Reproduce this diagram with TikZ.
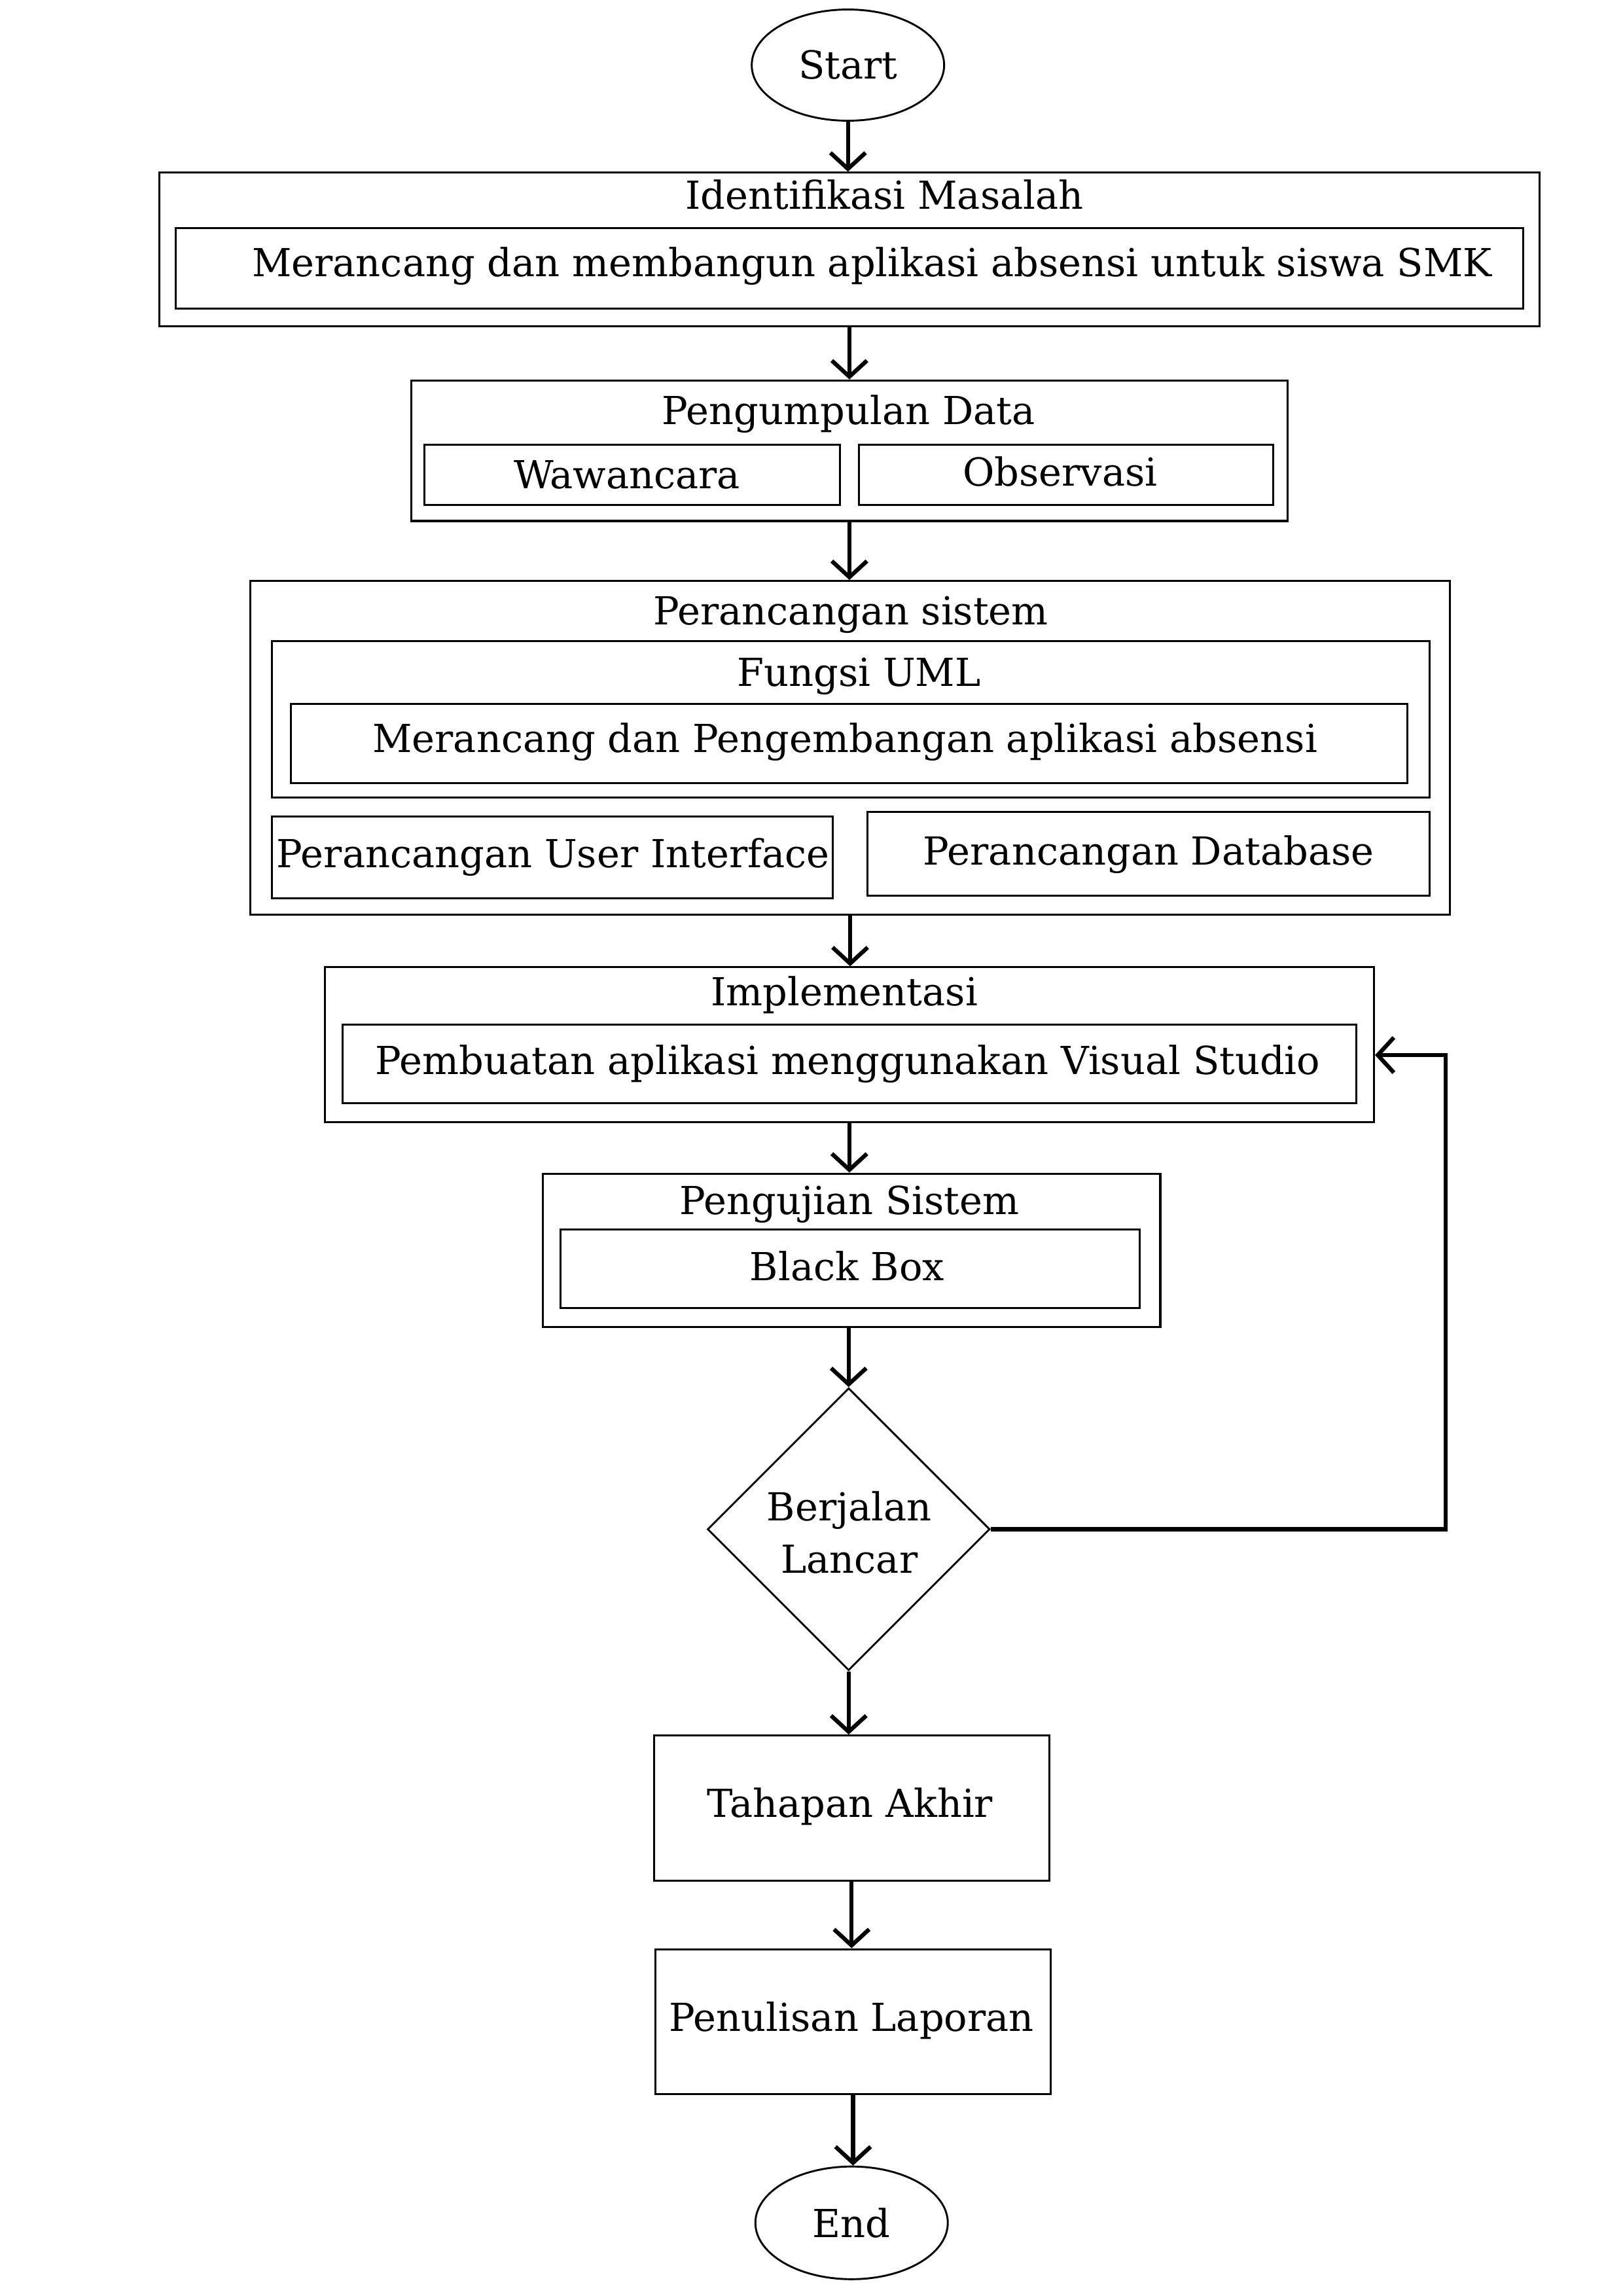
\documentclass[tikz,border=0pt]{standalone}
\usepackage{fontspec}
\setmainfont{DejaVu Serif}
\usetikzlibrary{shapes.geometric,arrows.meta,fit}
\begin{document}
\begin{tikzpicture}[x=0.5pt,y=-0.5pt,
  box/.style={draw, line width=0.7pt, inner sep=0pt, rectangle},
  txt/.style={font=\fontsize{13.2pt}{16pt}\selectfont, inner sep=0pt, anchor=base},
  term/.style={draw, ellipse, line width=0.65pt, inner sep=0pt, font=\fontsize{13.2pt}{16pt}\selectfont},
  decision/.style={draw, diamond, aspect=1, line width=0.65pt, inner sep=0pt},
  flow/.style={line width=1.4pt, -{Straight Barb[length=5.5pt,width=12pt]}},
]
\useasboundingbox[fill=white] (0,0) rectangle (1109,1569);

% terminals
\node[term, minimum width=65.75pt, minimum height=38pt] (start) at (579.5,44.5) {Start};
\node[term, minimum width=65.75pt, minimum height=38.5pt] (end) at (582,1519) {End};

% Identifikasi
\node[box, fit={(109,118) (1052,223)}] (ident) {};
\node[box, fit={(120,156) (1041,211)}] (identI) {};
\node[txt] (identT) at (604.5,143) {Identifikasi Masalah};
\node[txt] (identIT) at (596,189) {Merancang dan membangun aplikasi absensi untuk siswa SMK};

% Pengumpulan data
\node[box, fit={(281,260) (880,356)}] (peng) {};
\node[box, fit={(290,304) (574,345)}] (wawan) {};
\node[box, fit={(587,304) (870,345)}] (obs) {};
\node[txt] (pengT) at (580,290) {Pengumpulan Data};
\node[txt] (wawanT) at (428.5,334) {Wawancara};
\node[txt] (obsT) at (724.5,332) {Observasi};

% Perancangan sistem
\node[box, fit={(171,397) (991,625)}] (peran) {};
\node[box, fit={(186,438) (977,545)}] (uml) {};
\node[box, fit={(199,481) (962,535)}] (umlI) {};
\node[box, fit={(186,558) (569,614)}] (ui) {};
\node[box, fit={(593,555) (977,612)}] (db) {};
\node[txt] (peranT) at (581.5,427) {Perancangan sistem};
\node[txt] (umlT) at (587,469) {Fungsi UML};
\node[txt] (umlIT) at (577.5,514) {Merancang dan Pengembangan aplikasi absensi};
\node[txt] (uiT) at (378,593) {Perancangan User Interface};
\node[txt] (dbT) at (785,591) {Perancangan Database};

% Implementasi
\node[box, fit={(222,661) (939,767)}] (impl) {};
\node[box, fit={(234,700) (927,754)}] (implI) {};
\node[txt] (implT) at (577,687) {Implementasi};
\node[txt] (implIT) at (579.5,734) {Pembuatan aplikasi menggunakan Visual Studio};

% Pengujian
\node[box, fit={(371,802) (793,907)}] (uji) {};
\node[box, fit={(383,840) (779,894)}] (ujiI) {};
\node[txt] (ujiT) at (580.5,830) {Pengujian Sistem};
\node[txt] (ujiIT) at (579,875) {Black Box};

% decision
\node[decision, minimum width=96.5pt, minimum height=96.5pt] (dec) at (580,1045) {};
\node[txt] (decT1) at (580.5,1039) {Berjalan};
\node[txt] (decT2) at (580.5,1075) {Lancar};

% final steps
\node[box, fit={(447,1186) (717,1285)}] (akhir) {};
\node[txt] (akhirT) at (581,1242) {Tahapan Akhir};
\node[box, fit={(448,1332) (718,1431)}] (lapor) {};
\node[txt] (laporT) at (582,1388) {Penulisan Laporan};

% connectors
\draw[flow] (start.south) -- (start.south |- ident.north);
\draw[flow] (ident.south) -- (ident.south |- peng.north);
\draw[flow] (peng.south) -- (peng.south |- peran.north);
\draw[flow] (peran.south) -- (peran.south |- impl.north);
\draw[flow] (impl.south) -- (impl.south |- uji.north);
\draw[flow] (dec.north |- uji.south) -- (dec.north);
\draw[flow] (dec.south) -- (dec.south |- akhir.north);
\draw[flow] (akhir.south) -- (akhir.south |- lapor.north);
\draw[flow] (lapor.south) -- (lapor.south |- end.north);

\coordinate (lpA) at (988,1045);
\coordinate (lpB) at (988,721);
\draw[flow] (dec.east) -- (lpA) -- (lpB) -- (lpB -| impl.east);
\end{tikzpicture}
\end{document}
